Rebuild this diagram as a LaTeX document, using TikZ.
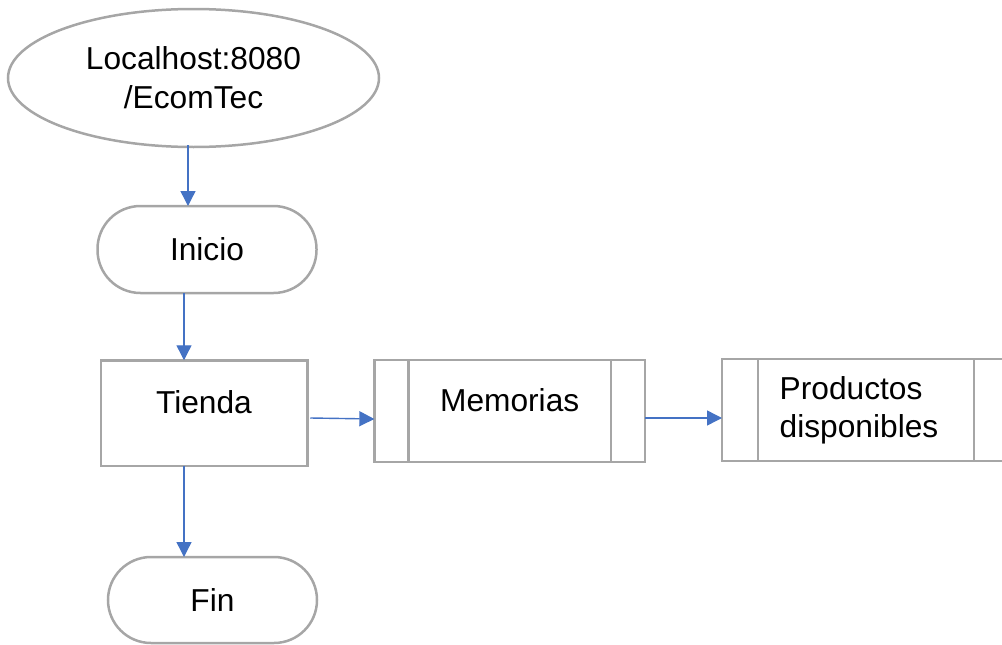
\documentclass[tikz,border=0pt]{standalone}
\usepackage{fontspec}
\setmainfont{Liberation Sans}
\usetikzlibrary{shapes.geometric,arrows.meta}
\definecolor{boxgray}{HTML}{A6A6A6}
\definecolor{arrblue}{HTML}{4472C4}
\tikzset{
  shp/.style={draw=boxgray, line width=2.5pt, inner sep=0pt, outer sep=0pt,
    font=\fontsize{31.7}{39}\selectfont},
  ellnode/.style={shp, ellipse, minimum width=371pt, minimum height=138pt, align=center},
  stadium/.style={shp, rectangle, rounded corners=43pt, minimum height=87pt},
  procbox/.style={shp, rectangle},
  arr/.style={draw=arrblue, line width=1.4pt, -{Triangle[length=15pt,width=15pt]}},
  inner/.style={draw=boxgray, line width=2.5pt}
}
\begin{document}
\begin{tikzpicture}[x=1pt,y=-1pt]
\useasboundingbox (0,0) rectangle (1002,645);
\clip (0,0) rectangle (1002,645);
\node[ellnode] (ell) at (193.5,78) {Localhost:8080\\/EcomTec};
\node[stadium, minimum width=219pt] (ini) at (207,249.5) {Inicio};
\node[procbox, minimum width=206.5pt, minimum height=105.5pt,
  label={[font=\fontsize{31.7}{39}\selectfont, yshift=11pt]center:Tienda}] (tienda) at (204,413) {};
\node[procbox, minimum width=270.7pt, minimum height=101.7pt,
  label={[font=\fontsize{31.7}{39}\selectfont, yshift=11pt]center:Memorias}] (mem) at (509.7,411) {};
\draw[inner] ([xshift=34pt]mem.north west) -- ([xshift=34pt]mem.south west);
\draw[inner] ([xshift=-34pt]mem.north east) -- ([xshift=-34pt]mem.south east);
\node[procbox, minimum width=288pt, minimum height=101.7pt,
  label={[font=\fontsize{31.7}{38}\selectfont, align=left, xshift=-7pt]center:Productos\\disponibles}] (prod) at (866,410) {};
\draw[inner] ([xshift=36pt]prod.north west) -- ([xshift=36pt]prod.south west);
\draw[inner] ([xshift=-36pt]prod.north east) -- ([xshift=-36pt]prod.south east);
\node[stadium, minimum width=209pt, minimum height=86pt] (fin) at (212.5,600) {Fin};
\draw[arr] ([xshift=-5.5pt,yshift=2pt]ell.south) -- ([xshift=-19pt]ini.north);
\draw[arr] ([xshift=-23pt]ini.south) -- ([xshift=-20pt]tienda.north);
\draw[arr] ([xshift=-20pt]tienda.south) -- ([xshift=-28.5pt]fin.north);
\draw[arr] ([xshift=3pt,yshift=-5pt]tienda.east) -- ([yshift=-8pt]mem.west);
\draw[arr] ([yshift=-7pt]mem.east) -- ([yshift=-8pt]prod.west);
\end{tikzpicture}
\end{document}
